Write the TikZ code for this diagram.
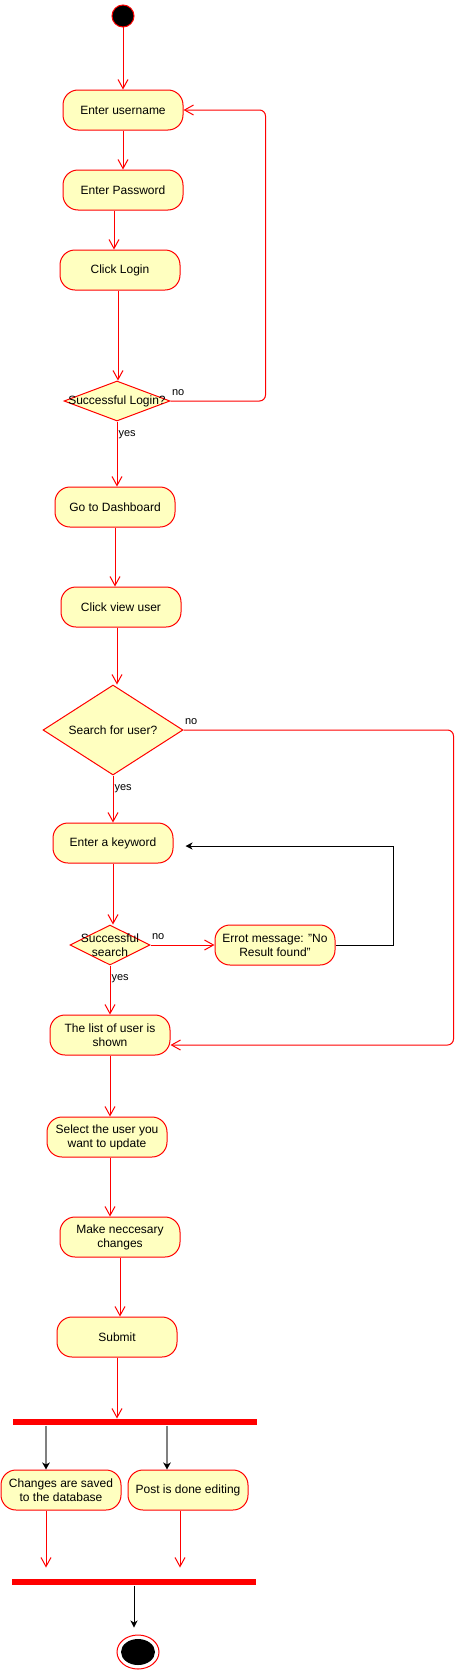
\documentclass[tikz,border=0pt]{standalone}
\usepackage{fontspec}
\setmainfont{Liberation Sans}
\usetikzlibrary{arrows.meta,shapes.geometric}
\definecolor{actfill}{HTML}{FFFFC0}
\definecolor{actred}{HTML}{FF0000}
\definecolor{forkgray}{HTML}{808080}

\begin{document}
\begin{tikzpicture}[x=1pt,y=-1pt,line width=1pt,
		act/.style={draw=actred,fill=actfill,rounded corners=15pt,minimum width=120pt,minimum height=40pt,inner sep=0pt,align=center,font=\fontsize{12}{14}\selectfont},
		dec/.style={draw=actred,fill=actfill,diamond,inner sep=0pt},
		dectext/.style={font=\fontsize{12}{14}\selectfont,align=center},
		bar/.style={fill=actred,minimum width=244pt,minimum height=6pt,inner sep=0pt},
		flow/.style={draw=actred,-{Straight Barb[length=9pt,width=10pt]}},
		blk/.style={draw=black,-{Stealth[length=7pt,width=7pt,inset=2pt]}},
		fk/.style={draw=forkgray,line width=1.8pt,-{Stealth[length=7pt,width=7.5pt,inset=2pt,color=black]}},
		yeslbl/.style={anchor=west,yshift=-13pt,inner sep=1pt,font=\fontsize{11}{13}\selectfont},
		nolbl/.style={anchor=west,yshift=8pt,inner sep=1pt,font=\fontsize{11}{13}\selectfont}]
	\useasboundingbox (0,0) rectangle (464,1670);
	
	\node[circle,fill=black,draw=actred,minimum size=22pt,inner sep=0pt] (start) at (123,16) {};
	\node[act] (user) at (123,110) {Enter username};
	\node[act] (pwd) at (123,190) {Enter Password};
	\node[act] (login) at (120,270) {Click Login};
	\node[dec,minimum width=106pt,minimum height=40pt,label={[dectext]center:Successful Login?}] (dlogin) at (117,401) {};
	\node[act] (dash) at (115,507) {Go to Dashboard};
	\node[act] (view) at (121,607) {Click view user};
	
	\node[dec,minimum width=140pt,minimum height=90pt,label={[dectext]center:Search for user?}] (dsearch) at (113,730) {};
	\node[act] (key) at (113,843) {Enter a keyword};
	\node[dec,minimum width=80pt,minimum height=40pt,label={[dectext]center:Successful\\search}] (dss) at (110,945) {};
	\node[act] (err) at (275,945) {Errot message: "No\\Result found"};
	\node[act] (list) at (110,1035) {The list of user is\\shown};
	
	\node[act] (sel) at (107,1137) {Select the user you\\want to update};
	\node[act] (make) at (120,1237) {Make neccesary\\changes};
	\node[act] (submit) at (117,1337) {Submit};
	\node[bar] (fork) at (135,1422) {};
	\node[act] (chg) at (61,1490) {Changes are saved\\to the database};
	\node[act] (post) at (188,1490) {Post is done editing};
	\node[bar] (join) at (134,1582) {};
	\node[ellipse,draw=actred,minimum width=42pt,minimum height=34pt,inner sep=0pt] (stop) at (138,1652) {};
	\node[ellipse,fill=black,minimum width=34pt,minimum height=26pt,inner sep=0pt] (stopdot) at (stop) {};
	
	\draw[flow] (start) -- (user);
	\draw[flow] (user) -- (pwd);
	\draw[flow] ([xshift=-9pt]pwd.south) -- ([xshift=-9pt]pwd.south |- login.north);
	\draw[flow] ([xshift=-2pt]login.south) -- ([xshift=-2pt]login.south |- dlogin.north);
	\draw[flow,rounded corners=6pt] (dlogin.east) node[nolbl] {no} -- ++(95,0) |- (user.east);
	\draw[flow] (dlogin.south) node[yeslbl] {yes} -- (dlogin.south |- dash.north);
	\draw[flow] (dash.south) -- (dash.south |- view.north);
	\draw[flow] ([xshift=-4pt]view.south) -- ([xshift=-4pt]view.south |- dsearch.north);
	
	\draw[flow,rounded corners=6pt] (dsearch.east) node[nolbl] {no} -- ++(270,0) |- ([yshift=-10pt]list.east);
	\draw[flow] (dsearch.south) node[yeslbl] {yes} -- (key.north);
	\draw[flow] (key.south) -- (key.south |- dss.north);
	\draw[flow] (dss.east) node[nolbl] {no} -- (err.west);
	\draw[blk] (err.east) -- ++(58,0) |- ([xshift=12pt,yshift=-3pt]key.east);
	\draw[flow] (dss.south) node[yeslbl] {yes} -- (dss.south |- list.north);
	
	\draw[flow] (list.south) -- (list.south |- sel.north);
	\draw[flow] ([xshift=3pt]sel.south) -- ([xshift=3pt]sel.south |- make.north);
	\draw[flow] (make.south) -- (make.south |- submit.north);
	\draw[flow] (submit.south) -- (submit.south |- fork.north);
	\draw[fk] ([xshift=-15pt]chg.north |- fork.south) -- ([xshift=-15pt]chg.north);
	\draw[fk] ([xshift=-21pt]post.north |- fork.south) -- ([xshift=-21pt]post.north);
	\draw[flow,shorten >=11pt] ([xshift=-15pt]chg.south) -- ([xshift=-15pt]chg.south |- join.north);
	\draw[flow,shorten >=11pt] ([xshift=-8pt]post.south) -- ([xshift=-8pt]post.south |- join.north);
	\draw[blk,shorten >=7pt] (join.south) -- (join.south |- stop.north);
\end{tikzpicture}
\end{document}
